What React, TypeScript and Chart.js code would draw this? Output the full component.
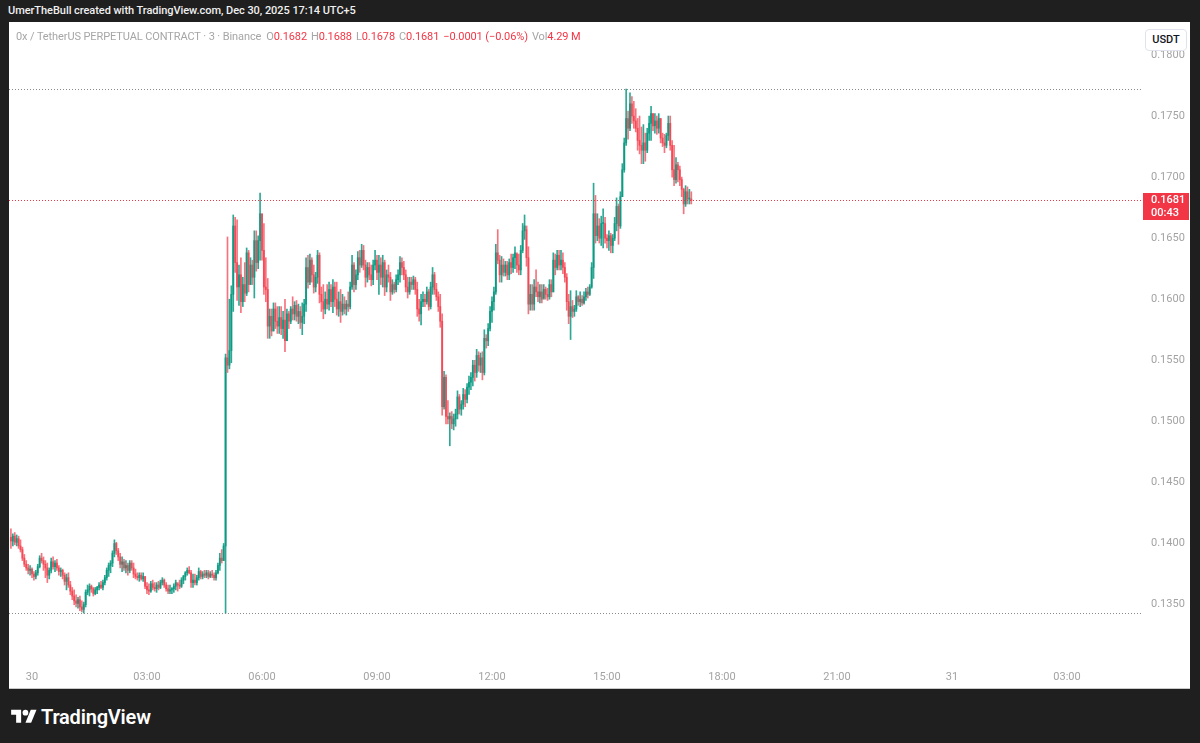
import React, { useEffect, useRef } from "react";
import { Chart, registerables } from "chart.js";

Chart.register(...registerables);

// 0x / TetherUS perpetual, 3-minute candles, times in minutes from Dec 30 00:00 (UTC+5)
const FIRST_OPEN = 0.1405;
const START_MINUTE = -33;
const CANDLE_MINUTES = 3;

const highs = [
  0.1412, 0.1408, 0.1409, 0.1407, 0.1406, 0.1403, 0.1397, 0.1391, 0.1386, 0.1383,
  0.1382, 0.138, 0.1377, 0.1378, 0.1383, 0.139, 0.1392, 0.1389, 0.1386, 0.1384,
  0.138, 0.1388, 0.1389, 0.1386, 0.1387, 0.1382, 0.138, 0.1379, 0.1376, 0.1375,
  0.1376, 0.1369, 0.1364, 0.1362, 0.1358, 0.1356, 0.1357, 0.1353, 0.1352, 0.1362,
  0.1366, 0.1367, 0.1366, 0.1364, 0.1364, 0.1365, 0.1368, 0.1369, 0.137, 0.1374,
  0.138, 0.1384, 0.1386, 0.1394, 0.1403, 0.1401, 0.1396, 0.1392, 0.1389, 0.1387,
  0.1386, 0.1384, 0.1386, 0.1386, 0.1384, 0.1379, 0.1376, 0.1376, 0.1376, 0.1376,
  0.1373, 0.1368, 0.1367, 0.1369, 0.137, 0.1368, 0.1368, 0.1369, 0.137, 0.1372,
  0.1371, 0.1368, 0.1366, 0.1366, 0.1364, 0.1367, 0.137, 0.1367, 0.137, 0.1372,
  0.1374, 0.1377, 0.138, 0.1381, 0.1378, 0.1375, 0.1375, 0.1374, 0.138, 0.1378,
  0.1377, 0.1378, 0.1378, 0.1378, 0.1377, 0.1378, 0.1376, 0.1378, 0.1384, 0.1392,
  0.1395, 0.14, 0.1555, 0.1651, 0.16, 0.1611, 0.1669, 0.1667, 0.1665, 0.1628,
  0.1634, 0.1618, 0.163, 0.1642, 0.164, 0.1634, 0.1632, 0.1656, 0.1656, 0.1652,
  0.1687, 0.167, 0.1662, 0.1634, 0.1617, 0.1592, 0.1592, 0.1597, 0.1597, 0.1594,
  0.1594, 0.1594, 0.159, 0.16, 0.1592, 0.159, 0.1594, 0.1602, 0.1598, 0.1599,
  0.1596, 0.1594, 0.1597, 0.16, 0.1634, 0.1636, 0.1637, 0.1634, 0.1628, 0.1622,
  0.164, 0.1638, 0.161, 0.1612, 0.1606, 0.1612, 0.1614, 0.1612, 0.1616, 0.1614,
  0.1614, 0.1606, 0.1608, 0.1604, 0.1602, 0.1599, 0.1606, 0.1614, 0.1636, 0.163,
  0.1624, 0.1639, 0.164, 0.1645, 0.1644, 0.1632, 0.163, 0.163, 0.1628, 0.1632,
  0.164, 0.1636, 0.1636, 0.1634, 0.1636, 0.1632, 0.1624, 0.1628, 0.1622, 0.1616,
  0.1614, 0.162, 0.1624, 0.1635, 0.1634, 0.1631, 0.1624, 0.1618, 0.1618, 0.1618,
  0.1619, 0.1618, 0.1614, 0.16, 0.1604, 0.1606, 0.1604, 0.161, 0.1608, 0.1614,
  0.1626, 0.1622, 0.1613, 0.1606, 0.1604, 0.1588, 0.1541, 0.1538, 0.1517, 0.1507,
  0.1508, 0.1506, 0.151, 0.1525, 0.1522, 0.1517, 0.1527, 0.1526, 0.1531, 0.1537,
  0.154, 0.155, 0.155, 0.1559, 0.1557, 0.1556, 0.1557, 0.1575, 0.1571, 0.158,
  0.1594, 0.1602, 0.161, 0.1645, 0.1657, 0.1636, 0.1635, 0.1633, 0.1631, 0.1631,
  0.1633, 0.1637, 0.1637, 0.1643, 0.1637, 0.1637, 0.1644, 0.1662, 0.1669, 0.1657,
  0.1643, 0.1612, 0.1612, 0.1616, 0.1624, 0.1614, 0.1612, 0.1612, 0.1612, 0.161,
  0.1609, 0.1616, 0.1616, 0.1638, 0.1637, 0.164, 0.164, 0.164, 0.1638, 0.163,
  0.1621, 0.1604, 0.1607, 0.1599, 0.1595, 0.1607, 0.1603, 0.1606, 0.1603, 0.1606,
  0.1609, 0.161, 0.1612, 0.163, 0.1695, 0.1685, 0.167, 0.1666, 0.1668, 0.1674,
  0.1667, 0.1653, 0.1656, 0.1654, 0.1653, 0.1667, 0.1683, 0.1678, 0.1688, 0.1711,
  0.1732, 0.1772, 0.1754, 0.1769, 0.1766, 0.1762, 0.1756, 0.1748, 0.175, 0.1741,
  0.1743, 0.1736, 0.174, 0.175, 0.1758, 0.1752, 0.1752, 0.175, 0.1752, 0.1748,
  0.1736, 0.1735, 0.1736, 0.175, 0.175, 0.173, 0.1726, 0.1716, 0.1712, 0.1709,
  0.17, 0.1691, 0.1693, 0.1692, 0.169, 0.1688,
];

const lows = [
  0.1396, 0.1398, 0.1399, 0.1398, 0.1396, 0.1393, 0.1386, 0.1381, 0.1378, 0.1375,
  0.1374, 0.1372, 0.137, 0.1371, 0.1374, 0.138, 0.1384, 0.1378, 0.1372, 0.1368,
  0.1371, 0.1376, 0.1379, 0.1377, 0.1378, 0.1374, 0.1373, 0.1371, 0.1366, 0.1362,
  0.1364, 0.1358, 0.1354, 0.135, 0.1348, 0.1347, 0.1345, 0.1344, 0.1343, 0.1348,
  0.1358, 0.1357, 0.136, 0.1357, 0.1358, 0.1359, 0.1362, 0.1363, 0.1362, 0.1366,
  0.137, 0.1373, 0.1376, 0.1381, 0.1389, 0.1391, 0.1386, 0.138, 0.1377, 0.1378,
  0.1376, 0.1374, 0.1376, 0.1378, 0.1372, 0.1371, 0.137, 0.1369, 0.137, 0.1369,
  0.1363, 0.1359, 0.1358, 0.136, 0.1362, 0.1361, 0.136, 0.1362, 0.1363, 0.1366,
  0.1364, 0.1361, 0.1359, 0.1359, 0.1359, 0.136, 0.1362, 0.1361, 0.1363, 0.1364,
  0.1367, 0.137, 0.1374, 0.1375, 0.1364, 0.1364, 0.1366, 0.1366, 0.137, 0.1371,
  0.1371, 0.1372, 0.1372, 0.1371, 0.1372, 0.1372, 0.137, 0.137, 0.1375, 0.1378,
  0.1384, 0.1386, 0.1343, 0.154, 0.1543, 0.1548, 0.159, 0.1622, 0.1599, 0.1595,
  0.1589, 0.1594, 0.1598, 0.1603, 0.1606, 0.1612, 0.1612, 0.1601, 0.1623, 0.1625,
  0.1632, 0.1632, 0.1604, 0.1598, 0.1568, 0.1568, 0.157, 0.1574, 0.1576, 0.1572,
  0.1572, 0.1571, 0.1568, 0.1557, 0.1566, 0.1576, 0.158, 0.1583, 0.1583, 0.1582,
  0.158, 0.1576, 0.1571, 0.158, 0.159, 0.1609, 0.1612, 0.1614, 0.1605, 0.1606,
  0.1613, 0.1597, 0.159, 0.1584, 0.1588, 0.1592, 0.1591, 0.1594, 0.1589, 0.1594,
  0.1587, 0.1586, 0.1581, 0.1587, 0.1588, 0.1587, 0.159, 0.1592, 0.1608, 0.1606,
  0.1608, 0.1616, 0.1622, 0.1626, 0.1624, 0.161, 0.1614, 0.1616, 0.1611, 0.1612,
  0.1624, 0.1616, 0.1604, 0.1612, 0.161, 0.1603, 0.1606, 0.1614, 0.1599, 0.1604,
  0.1605, 0.1606, 0.1612, 0.1614, 0.162, 0.1616, 0.1606, 0.1601, 0.1604, 0.1608,
  0.1608, 0.1604, 0.1586, 0.1582, 0.1579, 0.1594, 0.1594, 0.1596, 0.1591, 0.1592,
  0.1604, 0.1604, 0.1599, 0.159, 0.1577, 0.1505, 0.151, 0.1498, 0.1498, 0.148,
  0.1494, 0.1493, 0.1496, 0.1502, 0.1506, 0.1505, 0.151, 0.1512, 0.1515, 0.1522,
  0.1526, 0.1529, 0.1533, 0.1536, 0.1541, 0.154, 0.1534, 0.1538, 0.156, 0.1562,
  0.1574, 0.1581, 0.1591, 0.1604, 0.1629, 0.1614, 0.1614, 0.1619, 0.1619, 0.1616,
  0.1616, 0.1621, 0.1622, 0.1625, 0.1622, 0.162, 0.162, 0.1638, 0.1649, 0.1627,
  0.1588, 0.1591, 0.1591, 0.1591, 0.1602, 0.1598, 0.1597, 0.1597, 0.1601, 0.16,
  0.1599, 0.16, 0.1602, 0.1606, 0.162, 0.1624, 0.1624, 0.1624, 0.1621, 0.1614,
  0.1591, 0.158, 0.1567, 0.1585, 0.1586, 0.159, 0.1595, 0.1594, 0.1595, 0.1596,
  0.1599, 0.1601, 0.1603, 0.1609, 0.1617, 0.1646, 0.1648, 0.1646, 0.1644, 0.1642,
  0.1646, 0.1642, 0.164, 0.1638, 0.1638, 0.1648, 0.1656, 0.1645, 0.1658, 0.1684,
  0.1704, 0.1726, 0.1731, 0.1738, 0.1744, 0.174, 0.1737, 0.1722, 0.1719, 0.1711,
  0.1711, 0.1713, 0.172, 0.173, 0.173, 0.1738, 0.1736, 0.1735, 0.1736, 0.1728,
  0.1725, 0.172, 0.1724, 0.173, 0.1722, 0.17, 0.1693, 0.1695, 0.1696, 0.1693,
  0.1684, 0.167, 0.1676, 0.1678, 0.1678, 0.1678,
];

const closes = [
  0.1402, 0.1406, 0.1401, 0.1404, 0.1398, 0.1395, 0.1388, 0.1383, 0.138, 0.1378,
  0.1379, 0.1375, 0.1373, 0.1376, 0.1381, 0.1388, 0.1386, 0.1383, 0.138, 0.1374,
  0.1378, 0.1385, 0.1381, 0.1384, 0.138, 0.1377, 0.1378, 0.1374, 0.1369, 0.1372,
  0.1366, 0.1361, 0.1357, 0.1353, 0.1351, 0.1354, 0.1348, 0.1346, 0.135, 0.136,
  0.1362, 0.1365, 0.1363, 0.1359, 0.1362, 0.1364, 0.1366, 0.1364, 0.1368, 0.1372,
  0.1378, 0.1382, 0.1384, 0.1392, 0.14, 0.1394, 0.1389, 0.1383, 0.1385, 0.138,
  0.1382, 0.1378, 0.1384, 0.138, 0.1375, 0.1373, 0.1372, 0.1374, 0.1371, 0.1373,
  0.1365, 0.1362, 0.1361, 0.1367, 0.1364, 0.1363, 0.1366, 0.1364, 0.1368, 0.137,
  0.1366, 0.1363, 0.1361, 0.1362, 0.1363, 0.1365, 0.1368, 0.1366, 0.1365, 0.137,
  0.1373, 0.1376, 0.1378, 0.1376, 0.1368, 0.137, 0.1368, 0.1372, 0.1377, 0.1373,
  0.1375, 0.1374, 0.1376, 0.1373, 0.1375, 0.1374, 0.1372, 0.1376, 0.1382, 0.1388,
  0.1386, 0.1398, 0.1552, 0.1546, 0.1558, 0.1604, 0.166, 0.163, 0.161, 0.162,
  0.1598, 0.1612, 0.1605, 0.1638, 0.1612, 0.1628, 0.1618, 0.1648, 0.163, 0.1648,
  0.167, 0.164, 0.161, 0.1608, 0.1578, 0.1586, 0.1574, 0.1592, 0.1582, 0.1578,
  0.1585, 0.1576, 0.1583, 0.1566, 0.1588, 0.1582, 0.1592, 0.1588, 0.1595, 0.1586,
  0.159, 0.1581, 0.1586, 0.1596, 0.1626, 0.1614, 0.1632, 0.162, 0.161, 0.1618,
  0.1636, 0.1604, 0.1598, 0.1592, 0.16, 0.1596, 0.1608, 0.1598, 0.161, 0.16,
  0.1592, 0.1598, 0.159, 0.1596, 0.1592, 0.1596, 0.1594, 0.161, 0.1628, 0.1612,
  0.162, 0.1634, 0.1628, 0.164, 0.1628, 0.1618, 0.1626, 0.162, 0.1616, 0.1628,
  0.1632, 0.1622, 0.1628, 0.1618, 0.163, 0.161, 0.162, 0.1618, 0.1606, 0.1612,
  0.1608, 0.1616, 0.162, 0.163, 0.1626, 0.162, 0.161, 0.1606, 0.1614, 0.1612,
  0.1616, 0.1608, 0.1592, 0.1588, 0.1598, 0.16, 0.1598, 0.1606, 0.1594, 0.161,
  0.162, 0.1608, 0.1602, 0.1594, 0.1582, 0.1512, 0.1536, 0.1504, 0.1502, 0.1504,
  0.1498, 0.1502, 0.1506, 0.152, 0.151, 0.1514, 0.1522, 0.1518, 0.1528, 0.1532,
  0.1536, 0.1546, 0.154, 0.1554, 0.1546, 0.1552, 0.154, 0.1568, 0.1566, 0.1576,
  0.159, 0.1598, 0.1606, 0.1638, 0.1632, 0.162, 0.1628, 0.1622, 0.1628, 0.162,
  0.163, 0.1626, 0.1634, 0.1638, 0.1628, 0.1624, 0.164, 0.1656, 0.166, 0.1634,
  0.1596, 0.1604, 0.1596, 0.161, 0.1606, 0.1602, 0.1606, 0.16, 0.1608, 0.1604,
  0.1602, 0.1612, 0.1606, 0.1632, 0.1626, 0.1636, 0.1628, 0.1632, 0.1626, 0.1618,
  0.1598, 0.1586, 0.1594, 0.159, 0.1592, 0.1602, 0.1598, 0.16, 0.1597, 0.1602,
  0.1606, 0.1604, 0.161, 0.1626, 0.167, 0.1652, 0.166, 0.165, 0.1662, 0.1662,
  0.165, 0.1648, 0.1652, 0.1644, 0.165, 0.1662, 0.1676, 0.166, 0.1684, 0.1706,
  0.1728, 0.1748, 0.174, 0.176, 0.175, 0.1746, 0.174, 0.173, 0.1726, 0.1722,
  0.1728, 0.1722, 0.1736, 0.1744, 0.1752, 0.1742, 0.1746, 0.174, 0.1748, 0.1732,
  0.1728, 0.1726, 0.1734, 0.1744, 0.1726, 0.1706, 0.1698, 0.171, 0.1706, 0.1698,
  0.169, 0.1678, 0.1688, 0.1682, 0.1682, 0.1681,
];

const timeTickValues = [0, 180, 360, 540, 720, 900, 1080, 1260, 1440, 1620];
const timeTickLabels = ["30", "03:00", "06:00", "09:00", "12:00", "15:00", "18:00", "21:00", "31", "03:00"];
const priceTickValues = [0.135, 0.14, 0.145, 0.15, 0.155, 0.16, 0.165, 0.17, 0.175, 0.18];

const X_MIN = -36;
const X_MAX = 1739;
const Y_MIN = 0.13046;
const Y_MAX = 0.1827;

const DOWN = "#f23645";
const UP_SOFT = "rgba(8,153,129,0.85)";
const DOWN_SOFT = "rgba(242,54,69,0.7)";
const COUNTDOWN = "00:43";
const VOLUME = "4.29";

const opens = closes.map((c, i) => (i === 0 ? FIRST_OPEN : closes[i - 1]));
const times = closes.map((_, i) => START_MINUTE + i * CANDLE_MINUTES);
const candleColors = closes.map((c, i) => (c >= opens[i] ? UP_SOFT : DOWN_SOFT));

const last = closes.length - 1;
const fmt = (v: number) => v.toFixed(4);
const signed = (v: number, d: number) => (v < 0 ? "\u2212" : "+") + Math.abs(v).toFixed(d);

const overlayPlugin = {
  id: "tvOverlay",
  afterDatasetsDraw(chart: any) {
    const { ctx, chartArea, scales } = chart;
    const y = scales.y;
    const hi = Math.max(...highs);
    const lo = Math.min(...lows);
    ctx.save();
    ctx.lineWidth = 1;
    ctx.setLineDash([1, 2]);
    ctx.strokeStyle = "#8a8a8a";
    [hi, lo].forEach((v) => {
      const py = Math.round(y.getPixelForValue(v)) + 0.5;
      ctx.beginPath();
      ctx.moveTo(chartArea.left, py);
      ctx.lineTo(chartArea.right, py);
      ctx.stroke();
    });
    ctx.strokeStyle = DOWN;
    const cy = Math.round(y.getPixelForValue(closes[last])) + 0.5;
    ctx.beginPath();
    ctx.moveTo(chartArea.left, cy);
    ctx.lineTo(chartArea.right, cy);
    ctx.stroke();
    ctx.setLineDash([]);
    const bx = chartArea.right;
    const by = Math.round(cy) - 8;
    ctx.fillStyle = DOWN;
    ctx.fillRect(bx, by, 46, 27);
    ctx.fillStyle = "#ffffff";
    ctx.font = "500 11px Roboto, sans-serif";
    ctx.textBaseline = "middle";
    ctx.textAlign = "left";
    ctx.fillText(fmt(closes[last]), bx + 8, by + 7.5);
    ctx.fillText(COUNTDOWN, bx + 8, by + 20);
    ctx.restore();
  },
};

function TvLogo() {
  return (
    <svg width="28" height="20" viewBox="0 0 36 28" style={{ display: "block" }}>
      <path d="M14 22H7V11H0V4h14v18z" fill="#ffffff" />
      <circle cx="20" cy="8" r="4" fill="#ffffff" />
      <path d="M28 22h-8l7.5-18h8L28 22z" fill="#ffffff" />
    </svg>
  );
}

export default function App() {
  const canvasRef = useRef<HTMLCanvasElement | null>(null);

  useEffect(() => {
    const canvas = canvasRef.current;
    if (!canvas) return;
    const wickData = times.map((t, i) => ({ x: t, y: [lows[i], highs[i]] }));
    const bodyData = times.map((t, i) => ({ x: t, y: [opens[i], closes[i]] }));
    const chart = new Chart(canvas, {
      type: "bar",
      data: {
        datasets: [
          {
            data: wickData as any,
            backgroundColor: candleColors,
            barThickness: 1,
            grouped: false,
            order: 2,
          } as any,
          {
            data: bodyData as any,
            backgroundColor: candleColors,
            barThickness: 1.3,
            minBarLength: 1,
            grouped: false,
            order: 1,
          } as any,
        ],
      },
      options: {
        animation: false,
        responsive: false,
        maintainAspectRatio: false,
        devicePixelRatio: 1,
        layout: { padding: 0 },
        plugins: { legend: { display: false }, tooltip: { enabled: false } },
        scales: {
          x: {
            type: "linear",
            min: X_MIN,
            max: X_MAX,
            offset: false,
            grid: { display: false, drawTicks: false },
            border: { display: false },
            afterBuildTicks: (s: any) => {
              s.ticks = timeTickValues.map((v) => ({ value: v }));
            },
            afterFit: (s: any) => {
              s.height = 28;
              s.paddingLeft = 0;
              s.paddingRight = 0;
            },
            ticks: {
              autoSkip: false,
              maxRotation: 0,
              padding: 11,
              color: "#a3a3a3",
              font: { family: "Roboto, sans-serif", size: 11 },
              callback: (_v: any, i: number) => timeTickLabels[i],
            },
          },
          y: {
            type: "linear",
            position: "right",
            min: Y_MIN,
            max: Y_MAX,
            grid: { display: false, drawTicks: false },
            border: { display: false },
            afterBuildTicks: (s: any) => {
              s.ticks = priceTickValues.map((v) => ({ value: v }));
            },
            afterFit: (s: any) => {
              s.width = 47;
              s.paddingTop = 0;
              s.paddingBottom = 0;
            },
            ticks: {
              padding: 8,
              color: "#a3a3a3",
              font: { family: "Roboto, sans-serif", size: 11 },
              callback: (v: any) => Number(v).toFixed(4),
            },
          },
        },
      } as any,
      plugins: [overlayPlugin],
    });
    return () => chart.destroy();
  }, []);

  const o = opens[last];
  const c = closes[last];
  const change = c - o;
  const pct = (change / o) * 100;
  const gray = "#a6a6a6";

  return (
    <div
      style={{
        position: "fixed",
        left: 0,
        top: 0,
        width: 1200,
        height: 743,
        background: "#1f1f1f",
        overflow: "hidden",
        fontFamily: "Roboto, sans-serif",
      }}
    >
      <div
        style={{
          position: "absolute",
          left: 8,
          top: 3,
          color: "#f0f0f0",
          fontSize: 11,
          fontWeight: 500,
          lineHeight: "16px",
          whiteSpace: "nowrap",
          letterSpacing: -0.05,
        }}
      >
        UmerTheBull created with TradingView.com, Dec 30, 2025 17:14 UTC+5
      </div>
      <div
        style={{
          position: "absolute",
          left: 9,
          top: 22,
          width: 1181,
          height: 666,
          background: "#ffffff",
          borderBottom: "1px solid #c9c9c9",
        }}
      >
        <canvas ref={canvasRef} width={1181} height={666} style={{ display: "block", width: 1181, height: 666 }} />
        <div
          style={{
            position: "absolute",
            left: 7,
            top: 8,
            fontSize: 11,
            lineHeight: "14px",
            whiteSpace: "nowrap",
            color: gray,
            display: "flex",
            gap: 4,
            letterSpacing: -0.1,
          }}
        >
          <span style={{ marginRight: 1 }}>0x / TetherUS PERPETUAL CONTRACT · 3 · Binance</span>
          <span>
            O<span style={{ color: DOWN }}>{fmt(o)}</span>
          </span>
          <span>
            H<span style={{ color: DOWN }}>{fmt(highs[last])}</span>
          </span>
          <span>
            L<span style={{ color: DOWN }}>{fmt(lows[last])}</span>
          </span>
          <span>
            C<span style={{ color: DOWN }}>{fmt(c)}</span>
          </span>
          <span style={{ color: DOWN }}>
            {signed(change, 4)} ({signed(pct, 2)}%)
          </span>
          <span>
            Vol<span style={{ color: DOWN }}>{VOLUME} M</span>
          </span>
        </div>
        <div
          style={{
            position: "absolute",
            left: 1136,
            top: 7,
            width: 42,
            height: 22,
            background: "#ffffff",
            border: "1px solid #e0e3eb",
            borderRadius: 4,
            boxSizing: "border-box",
            fontSize: 11,
            lineHeight: "20px",
            textAlign: "center",
            color: "#131722",
            fontWeight: 500,
          }}
        >
          USDT
        </div>
      </div>
      <div style={{ position: "absolute", left: 10, top: 707, display: "flex", alignItems: "center", gap: 3 }}>
        <TvLogo />
        <span style={{ color: "#ffffff", fontSize: 20, fontWeight: 600, letterSpacing: -0.2, lineHeight: "20px" }}>
          TradingView
        </span>
      </div>
    </div>
  );
}
